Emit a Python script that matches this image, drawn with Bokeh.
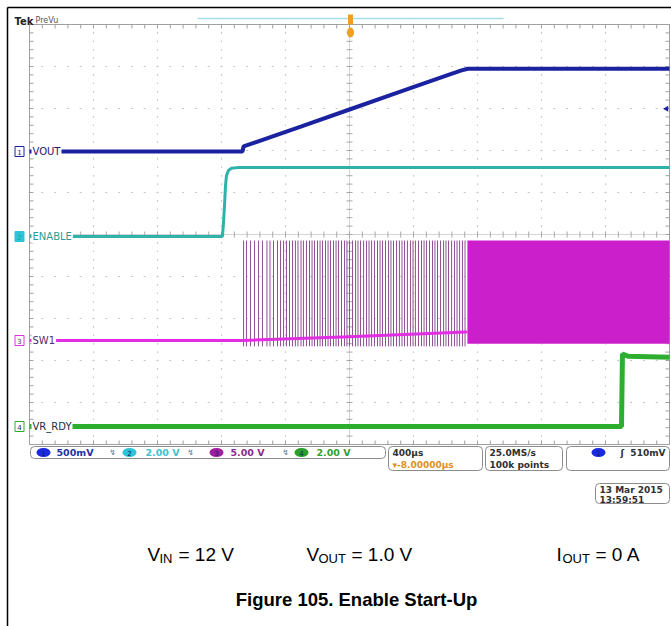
import numpy as np
from bokeh.plotting import figure
from bokeh.models import Range1d
from bokeh.embed import file_html
from bokeh.resources import INLINE
from bokeh.core.properties import value

# ---------------- data (time in µs relative to trigger, 400 µs/div) ----------------
channels = ["VOUT", "ENABLE", "SW1", "VR_RDY"]
volts_per_div = [0.5, 2.0, 5.0, 2.0]

vout_t = [-2000, -669, -662, -300, 0, 300, 600, 700, 740, 2000]
vout_v = [0.0, 0.0, 0.06, 0.30, 0.50, 0.70, 0.90, 0.965, 0.985, 0.985]

en_t = [-2000, -794, -788, -781, -775, -769, -756, -738, -700, 2000]
en_v = [0.0, 0.0, 0.6, 1.5, 2.4, 2.9, 3.15, 3.25, 3.28, 3.28]

sw_base_t = [-2000, -669, 0, 725, 737]
sw_base_v = [0.0, 0.0, 0.45, 1.0, 1.0]
sw_pulse_t = [-662, -644, -619, -594, -569, -544, -516, -497, -475, -450, -431, -412,
              -394, -375, -356, -338, -322, -303, -288, -269, -250, -234, -219, -200,
              -184, -169, -150, -134, -119, -100, -84, -69, -50, -31, -16, 0, 19, 38,
              53, 69, 88, 106, 122, 138, 156, 175, 191, 206, 225, 244, 259, 275, 294,
              312, 328, 344, 362, 381, 397, 412, 431, 450, 466, 481, 500, 519, 534,
              550, 569, 588, 603, 619, 638, 656, 672, 688, 706, 722]
sw_pulse_high = 11.9
sw_pulse_low = -0.7
sw_dense_t = [737, 2000]
sw_dense_v = [-0.4, 11.9]

rdy_t = [-2000, 1700, 1706, 1740, 2000]
rdy_v = [0.0, 0.0, 3.45, 3.35, 3.3]

trig_level_v = 0.51

# ---------------- layout (page pixel coordinates) ----------------
W, H = 671, 626
OX, OY = 0, 0
GL, GR, GT, GB = 29, 669, 24, 444          # graticule edges
XDIV, YDIV = 64.0, 42.0
XC = (GL + GR) / 2.0
gnd_y = [151, 236, 340, 426]              # ground marker rows

p = figure(width=W, height=H, min_border=0, x_axis_location=None, y_axis_location=None,
           toolbar_location=None, output_backend="svg", outline_line_color=None,
           x_range=Range1d(OX, OX + W), y_range=Range1d(OY + H, OY))
p.background_fill_color = "white"
p.border_fill_color = "white"
p.xgrid.visible = False
p.ygrid.visible = False

us_per_px = 400.0 / XDIV
p.extra_x_ranges = {"t": Range1d((OX - XC) * us_per_px, (OX + W - XC) * us_per_px)}
ranges = {}
for name, vd, gy in zip(channels, volts_per_div, gnd_y):
    px_per_v = YDIV / vd
    ranges[name] = Range1d((gy - (OY + H)) / px_per_v, (gy - OY) / px_per_v)
p.extra_y_ranges = ranges

# ---------------- page frame ----------------
p.segment(x0=[7, 7], y0=[7, 7], x1=[OX + W, 7], y1=[7, OY + H], line_color="black", line_width=1.5)

# ---------------- graticule ----------------
gcol = "#c8c8c8"
dx, dy = [], []
for k in range(1, 10):
    if k == 5:
        continue
    xs = GL + k * XDIV
    ys = np.arange(GT, GB + 0.1, YDIV / 5)
    dx += [xs] * len(ys); dy += list(ys)
xs_h, ys_h = [], []
for k in range(1, 10):
    if k == 5:
        continue
    yy = GT + k * YDIV
    xx = np.arange(GL, GR + 0.1, XDIV / 5)
    xs_h += list(xx); ys_h += [yy] * len(xx)
p.rect(x=dx, y=dy, width=1.2, height=1.6, fill_color=gcol, line_color=None)
p.rect(x=xs_h, y=ys_h, width=2.0, height=1.2, fill_color=gcol, line_color=None)
p.segment(x0=[GL, XC], y0=[GT + 5 * YDIV, GT], x1=[GR, XC], y1=[GT + 5 * YDIV, GB],
          line_color="#d4d4d4", line_width=1)
tx = np.arange(GL, GR + 0.1, XDIV / 5)
ty = np.arange(GT, GB + 0.1, YDIV / 5)
yc = GT + 5 * YDIV
p.segment(x0=tx, y0=yc - 3, x1=tx, y1=yc + 3, line_color="#a8a8a8")
p.segment(x0=XC - 3, y0=ty, x1=XC + 3, y1=ty, line_color="#a8a8a8")
p.rect(x=[XC], y=[(GT + GB) / 2], width=GR - GL, height=GB - GT, fill_color=None,
       line_color="#a0a0a0", line_width=1)
p.segment(x0=tx, y0=GT, x1=tx, y1=GT + 4, line_color="#a0a0a0")
p.segment(x0=tx, y0=GB - 4, x1=tx, y1=GB, line_color="#a0a0a0")
p.segment(x0=GL, y0=ty, x1=GL + 4, y1=ty, line_color="#a0a0a0")
p.segment(x0=GR - 4, y0=ty, x1=GR, y1=ty, line_color="#a0a0a0")

# ---------------- traces ----------------
c_vout, c_en, c_sw, c_rdy = "#1a22a0", "#2fb2aa", "#e22ee2", "#2eae2e"
p.line(vout_t, vout_v, x_range_name="t", y_range_name="VOUT", line_color=c_vout, line_width=4)
p.line(en_t, en_v, x_range_name="t", y_range_name="ENABLE", line_color=c_en, line_width=3)
p.quad(left=[sw_dense_t[0]], right=[sw_dense_t[1]], bottom=[sw_dense_v[0]], top=[sw_dense_v[1]],
       x_range_name="t", y_range_name="SW1", fill_color="#cc1fcc", line_color=None)
p.segment(x0=sw_pulse_t, y0=sw_pulse_low, x1=sw_pulse_t, y1=sw_pulse_high,
          x_range_name="t", y_range_name="SW1", line_color="#8e5092", line_width=1.0)
p.line(sw_base_t, sw_base_v, x_range_name="t", y_range_name="SW1", line_color=c_sw, line_width=3)
p.line(rdy_t, rdy_v, x_range_name="t", y_range_name="VR_RDY", line_color=c_rdy, line_width=5)

p.scatter(x=[GR - 3], y=[trig_level_v], y_range_name="VOUT", marker="triangle", angle=np.pi / 2,
          size=6, fill_color=c_vout, line_color=None)

# ---------------- header ----------------
sf = value("DejaVu Sans")
p.text(x=[14], y=[21], text=["Tek"], text_font=sf, text_font_size="10px", text_font_style="bold",
       text_color="#222222", text_baseline="alphabetic")
p.text(x=[35], y=[20], text=["PreVu"], text_font=sf, text_font_size="8px",
       text_color="#555555", text_baseline="alphabetic")
p.segment(x0=[197], y0=[18], x1=[503], y1=[18], line_color="#a6dde6", line_width=1.5)
p.rect(x=[350], y=[19], width=5, height=10, fill_color="#f0a020", line_color=None)
p.ellipse(x=[350], y=[32], width=7, height=10, fill_color="#f0a020", line_color=None)

# ---------------- channel labels ----------------
lab_cols = ["#1a1a70", "#2a9d98", "#5a2a6a", "#203040"]
box_cols = [c_vout, "#2cc4d8", c_sw, c_rdy]
box_fill = ["white", "#2cc4d8", "white", "white"]
for i, (name, gy) in enumerate(zip(channels, gnd_y)):
    p.text(x=[31], y=[gy], text=[name], text_font=sf, text_font_size="10px",
           text_baseline="middle", text_color=lab_cols[i],
           background_fill_color="white", padding=1)
    p.rect(x=[19], y=[gy], width=9, height=10, fill_color=box_fill[i], line_color=box_cols[i])
    p.text(x=[19], y=[gy], text=[str(i + 1)], text_font=sf, text_font_size="7px",
           text_align="center", text_baseline="middle", text_color=lab_cols[i])

# ---------------- info bar ----------------
bc = "#8c8c8c"
p.quad(left=[30, 388, 485, 566, 595], right=[385, 482, 562, 669, 669],
       top=[446, 446, 446, 446, 483], bottom=[458, 470, 470, 470, 503],
       fill_color="white", line_color=bc, border_radius=4)
p.ellipse(x=[43, 129, 216, 301, 598], y=[452] * 5, width=14, height=9,
          fill_color=["#1a2ae0", "#2cc4d8", "#a01ea0", "#2aa02a", "#1a2ae0"], line_color=None)
for xx, t in zip([43, 129, 216, 301, 598], ["1", "2", "3", "4", "1"]):
    p.text(x=[xx], y=[452], text=[t], text_font=sf, text_font_size="7px", text_align="center",
           text_baseline="middle", text_color="#102060")
for xx, t, c in [(56, "500mV", "#2430a0"), (145, "2.00 V", "#40c0d0"), (230, "5.00 V", "#8a2a8a"),
                 (316, "2.00 V", "#30a030")]:
    p.text(x=[xx], y=[452], text=[t], text_font=sf, text_font_size="9.5px", text_baseline="middle",
           text_color=c, text_font_style="bold")
for xx in [112, 190, 285]:
    p.text(x=[xx], y=[452], text=["↯"], text_font=sf, text_font_size="8px", text_baseline="middle",
           text_color="#6080a0", text_align="center")
for xx, yy, t, c, al in [(392, 452, "400µs", "#303030", "left"),
                         (392, 464, "▾-8.00000µs", "#e09020", "left"),
                         (489, 452, "25.0MS/s", "#303030", "left"),
                         (489, 464, "100k points", "#303030", "left"),
                         (620, 452, "ʃ", "#303030", "left"),
                         (665, 452, "510mV", "#303030", "right"),
                         (599, 489, "13 Mar 2015", "#303030", "left"),
                         (599, 499, "13:59:51", "#303030", "left")]:
    p.text(x=[xx], y=[yy], text=[t], text_font=sf, text_font_size="9px", text_baseline="middle",
           text_color=c, text_font_style="bold", text_align=al)

# ---------------- conditions and caption ----------------
nf = value("Liberation Sans")
big, small = "19px", "13px"
for x0, main, sub, sub_dx, rest, rest_dx in [(147, "V", "IN", 12, "= 12 V", 31),
                                             (306, "V", "OUT", 12, "= 1.0 V", 45),
                                             (556, "I", "OUT", 6, "= 0 A", 39)]:
    p.text(x=[x0], y=[554], text=[main], text_font=nf, text_font_size=big, text_color="black",
           text_baseline="alphabetic")
    p.text(x=[x0 + sub_dx], y=[558], text=[sub], text_font=nf, text_font_size=small,
           text_color="black", text_baseline="alphabetic")
    p.text(x=[x0 + rest_dx], y=[554], text=[rest], text_font=nf, text_font_size=big,
           text_color="black", text_baseline="alphabetic")
p.text(x=[356], y=[599], text=["Figure 105. Enable Start-Up"], text_font=nf, text_font_size="18.5px",
       text_font_style="bold", text_color="black", text_align="center", text_baseline="alphabetic")

open("out.html", "w").write(file_html(p, INLINE))
